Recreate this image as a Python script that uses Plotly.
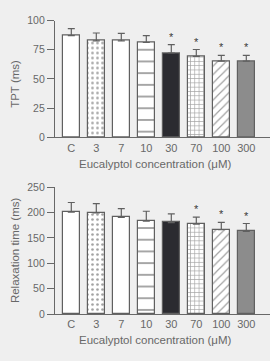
import plotly.graph_objects as go

categories = ["C", "3", "7", "10", "30", "70", "100", "300"]
tpt_mean = [87, 82.6, 82.6, 81.2, 72.2, 69.4, 65.3, 65.3]
tpt_upper = [93.1, 89.3, 89.0, 87.0, 79.3, 75.2, 70.2, 70.2]
tpt_sig = [False, False, False, False, True, True, True, True]
relax_mean = [200.5, 199.2, 190.3, 182.7, 180.2, 177.0, 166.3, 163.0]
relax_upper = [219.6, 217.6, 207.4, 202.4, 197.3, 191.0, 180.7, 178.3]
relax_sig = [False, False, False, False, False, True, True, True]
tpt_ticks = [0, 25, 50, 75, 100]
relax_ticks = [0, 50, 100, 150, 200, 250]

W, H = 270, 361
BG = "#efefef"
INK = "#686868"
EDGE = "#606060"

fill_colors = ["white", "white", "white", "white", "#2b2b30", "white", "white", "#8c8c8c"]
shapes = ["", ".", "", "-", "", "+", "/", ""]
sizes = [6, 5, 6, 11.7, 6, 4.3, 6, 6]
solid = [0.2, 0.22, 0.2, 0.16, 0.2, 0.28, 0.2, 0.2]
fg = ["#444444", "#5a5a5a", "#444444", "#3a3a3a", "#444444", "#3a3a3a", "#3a3a3a", "#444444"]

fig = go.Figure()

def add_panel(mean, upper, sig, xa, ya):
    fig.add_trace(go.Bar(
        x=list(range(len(categories))), y=mean, xaxis=xa, yaxis=ya,
        width=0.68,
        marker=dict(color=fill_colors, line=dict(color=EDGE, width=1.2),
                    pattern=dict(shape=shapes, size=sizes, solidity=solid,
                                 fgcolor=fg, fillmode="overlay")),
        error_y=dict(type="data", symmetric=False,
                     array=[u - m for u, m in zip(upper, mean)],
                     arrayminus=[0] * len(mean),
                     color=EDGE, thickness=1.2, width=3.5),
        showlegend=False,
    ))
    for i, (u, s) in enumerate(zip(upper, sig)):
        if s:
            fig.add_annotation(x=i, y=u, xref=xa, yref=ya, text="*",
                               showarrow=False, yanchor="bottom", yshift=0,
                               font=dict(size=11, color="#3a3a3a"))

add_panel(tpt_mean, tpt_upper, tpt_sig, "x", "y")
add_panel(relax_mean, relax_upper, relax_sig, "x2", "y2")

xdom = [55 / W, 1.0]
top_dom = [(H - 136) / H, (H - 15) / H]
bot_dom = [(H - 318.7) / H, (H - 187.3) / H]
xrange = [-0.652, 7.948]

common_x = dict(domain=xdom, range=xrange, tickmode="array",
                tickvals=list(range(len(categories))), ticktext=categories,
                showline=True, linecolor=INK, linewidth=1.2, ticks="",
                showgrid=False, zeroline=False,
                tickfont=dict(family="Liberation Sans", size=11, color=INK))
common_y = dict(showline=True, linecolor=INK, linewidth=1.2, ticks="outside",
                ticklen=7, tickwidth=1.2, tickcolor=INK, showgrid=False,
                zeroline=False,
                tickfont=dict(family="Liberation Sans", size=10.5, color=INK))

fig.update_layout(
    width=W, height=H, margin=dict(l=0, r=0, t=0, b=0),
    paper_bgcolor=BG, plot_bgcolor=BG,
    font=dict(family="Liberation Sans", color=INK, size=11),
    xaxis=dict(anchor="y", **common_x),
    yaxis=dict(anchor="x", domain=top_dom, range=[0, 100], tickvals=tpt_ticks, **common_y),
    xaxis2=dict(anchor="y2", **common_x),
    yaxis2=dict(anchor="x2", domain=bot_dom, range=[0, 250], tickvals=relax_ticks, **common_y),
    bargap=0,
)

title_font = dict(family="Liberation Sans", size=11.5, color=INK)
fig.add_annotation(x=155.5 / W, y=(H - 163.3) / H, xref="paper", yref="paper",
                   text="Eucalyptol concentration (μM)", showarrow=False,
                   xanchor="center", yanchor="middle", font=title_font)
fig.add_annotation(x=155.5 / W, y=(H - 345.7) / H, xref="paper", yref="paper",
                   text="Eucalyptol concentration (μM)", showarrow=False,
                   xanchor="center", yanchor="middle", font=title_font)
fig.add_annotation(x=15 / W, y=(H - 80.5) / H, xref="paper", yref="paper",
                   text="TPT (ms)", showarrow=False, textangle=-90,
                   xanchor="center", yanchor="middle", font=title_font)
fig.add_annotation(x=15 / W, y=(H - 252.5) / H, xref="paper", yref="paper",
                   text="Relaxation time (ms)", showarrow=False, textangle=-90,
                   xanchor="center", yanchor="middle", font=title_font)

fig.write_html("out.html")
